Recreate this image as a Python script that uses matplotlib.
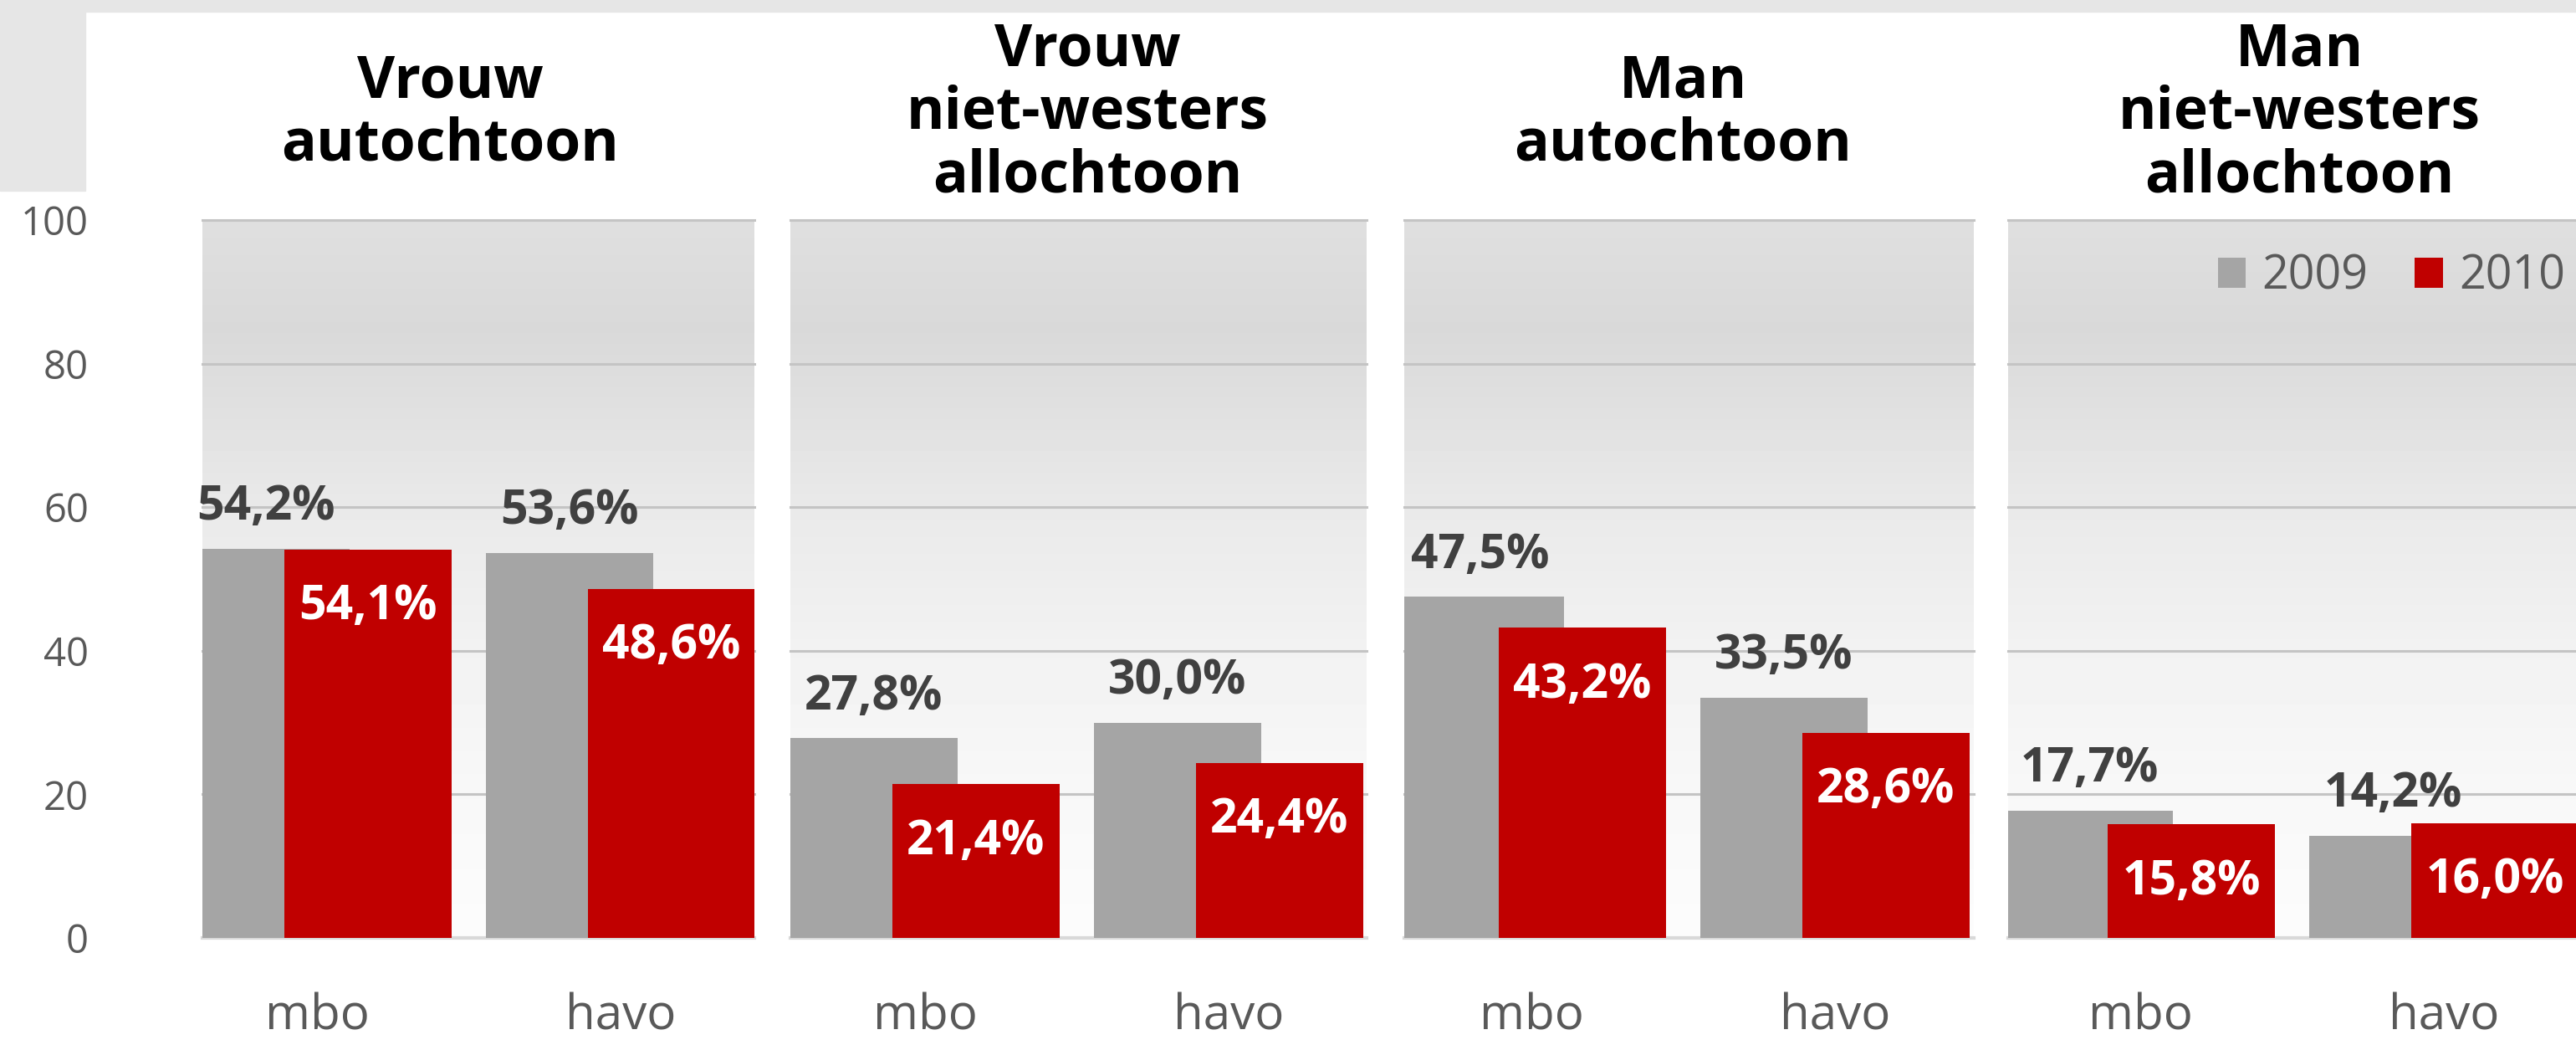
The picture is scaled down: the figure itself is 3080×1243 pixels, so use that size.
import numpy as np
import matplotlib
matplotlib.use("Agg")
import matplotlib.pyplot as plt
from matplotlib.patches import Rectangle

# ---------------- data ----------------
groups = ["Vrouw\nautochtoon", "Vrouw\nniet-westers\nallochtoon",
          "Man\nautochtoon", "Man\nniet-westers\nallochtoon"]
levels = ["mbo", "havo"]
years = ["2009", "2010"]
vals_2009 = [[54.2, 53.6], [27.8, 30.0], [47.5, 33.5], [17.7, 14.2]]
vals_2010 = [[54.1, 48.6], [21.4, 24.4], [43.2, 28.6], [15.8, 16.0]]
yticks = [0, 20, 40, 60, 80, 100]

# ---------------- style ----------------
FONT = "Open Sans"
C_GRAY = "#a5a5a5"
C_RED = "#c00000"
C_TICK = "#595959"
C_LBL = "#404040"

W, H, DPI = 3080, 1243, 100
fig = plt.figure(figsize=(W / DPI, H / DPI), dpi=DPI)
fig.patch.set_facecolor("white")

# decorative light-gray bands (top strip and top-left block)
fig.patches.append(Rectangle((0, 1 - 14 / H), 1, 14 / H, transform=fig.transFigure,
                             color="#e6e6e6", zorder=0))
fig.patches.append(Rectangle((0, 1 - 228 / H), 102 / W, 228 / H, transform=fig.transFigure,
                             color="#e6e6e6", zorder=0))

# panel layout in pixels: (left, right, x-pixel of first category)
panels_px = [(242, 902, 379), (945, 1634, 1106), (1679, 2360, 1831), (2401, 3080, 2559)]
unit = 363.0          # pixels per category step
y0_px, y100_px = 1121, 263
title_x_px = [538, 1300, 2012, 2749]
title_y_px = 136

bar_w = 0.551
off = 0.168

gy = np.linspace(0, 100, 256)
gg = np.interp(gy, [0, 20, 40, 60, 85, 100], [0.988, 0.972, 0.948, 0.915, 0.85, 0.875])
grad = np.repeat(gg[:, None], 2, axis=1)


def fmt(v):
    return f"{v:.1f}".replace(".", ",") + "%"


axes = []
for i, (lpx, rpx, c0) in enumerate(panels_px):
    ax = fig.add_axes([lpx / W, 1 - y0_px / H, (rpx - lpx) / W, (y0_px - y100_px) / H])
    axes.append(ax)
    xl = (lpx - c0) / unit
    xr = (rpx - c0) / unit
    ax.set_xlim(xl, xr)
    ax.set_ylim(0, 100)
    ax.imshow(grad, origin="lower", extent=(xl, xr, 0, 100), cmap="gray",
              vmin=0, vmax=1, aspect="auto", zorder=0, interpolation="bilinear")
    for s in ax.spines.values():
        s.set_visible(False)
    for yv in yticks[1:]:
        ax.axhline(yv, color="#c4c4c4", lw=2.2, zorder=1, clip_on=False)
    ax.axhline(0, color="#d9d9d9", lw=3, zorder=1.5, clip_on=False)

    x = np.arange(len(levels))
    b1 = ax.bar(x - off, vals_2009[i], bar_w, color=C_GRAY, zorder=2, label=years[0])
    b2 = ax.bar(x + off, vals_2010[i], bar_w, color=C_RED, zorder=3, label=years[1])

    for xi, v in zip(x, vals_2009[i]):
        ax.annotate(fmt(v), (xi - off, v), xytext=(0, 25), textcoords="offset points",
                    ha="center", va="baseline", fontsize=41, fontweight="bold",
                    color=C_LBL, family=FONT, zorder=6, annotation_clip=False)
    for xi, v in zip(x, vals_2010[i]):
        ax.annotate(fmt(v), (xi + off, v), xytext=(0, -60), textcoords="offset points",
                    ha="center", va="baseline", fontsize=41, fontweight="bold",
                    color="white", family=FONT, zorder=6, annotation_clip=False)

    ax.set_xticks(x)
    ax.set_xticklabels(levels, family=FONT)
    ax.tick_params(axis="x", length=0, pad=47, labelsize=42, labelcolor=C_TICK)
    if i == 0:
        ax.set_yticks(yticks)
        ax.set_yticklabels([str(t) for t in yticks], family=FONT)
        ax.tick_params(axis="y", length=0, pad=98, labelsize=34, labelcolor=C_TICK)
    else:
        ax.set_yticks([])

    fig.text(title_x_px[i] / W, 1 - title_y_px / H, groups[i], ha="center", va="center",
             multialignment="center", fontsize=50, fontweight="bold", color="black",
             family=FONT, linespacing=1.1)

    if i == len(panels_px) - 1:
        leg = ax.legend(handles=[b1, b2], labels=years, loc="center right",
                        bbox_to_anchor=(3067 / W, 1 - 331 / H), bbox_transform=fig.transFigure,
                        ncol=2, frameon=False, handlelength=0.6, handleheight=0.6,
                        handletextpad=0.35, columnspacing=1.0, borderpad=0, borderaxespad=0,
                        prop={"family": FONT, "size": 40})
        for t in leg.get_texts():
            t.set_color(C_TICK)

fig.savefig("out.png", dpi=DPI, facecolor="white")
